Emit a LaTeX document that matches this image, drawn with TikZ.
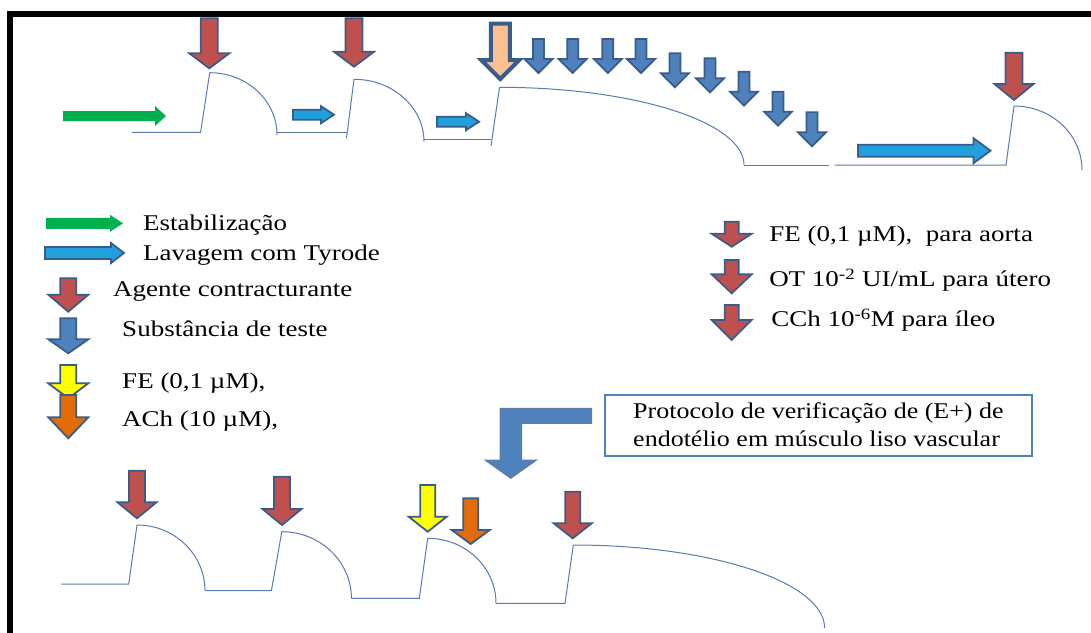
\documentclass[tikz,border=0pt]{standalone}
\usepackage{fontspec}
\setmainfont{Liberation Serif}

\definecolor{contr}{HTML}{C0504D}
\definecolor{teste}{HTML}{4F81BD}
\definecolor{borda}{HTML}{385D8A}
\definecolor{estab}{HTML}{00B050}
\definecolor{lavag}{HTML}{21A0DC}
\definecolor{feam}{HTML}{FFFF00}
\definecolor{achlar}{HTML}{E36C09}
\definecolor{pessego}{HTML}{FAC090}
\definecolor{tracocor}{HTML}{5A7AAE}

\tikzset{
  seta/.style={draw=borda, line width=1.8},
  registro/.style={draw=tracocor, line width=1},
  rotulo/.style={anchor=base west, inner sep=0, xscale=1.2, font=\fontsize{22.5}{27}\selectfont},
}

% down arrow: [style]{x}{top}{tip}{body half}{head half}{head length}
\newcommand{\seta}[7][fill=contr]{%
  \filldraw[seta,#1] (#2-#5,#3) -- (#2-#5,#4-#7) -- (#2-#6,#4-#7) -- (#2,#4)
    -- (#2+#6,#4-#7) -- (#2+#5,#4-#7) -- (#2+#5,#3) -- cycle;}
% right arrow: [style]{x start}{x tip}{y}{body half}{head half}{head length}
\newcommand{\setadir}[7][fill=lavag]{%
  \filldraw[seta,#1] (#2,#4-#5) -- (#3-#7,#4-#5) -- (#3-#7,#4-#6) -- (#3,#4)
    -- (#3-#7,#4+#6) -- (#3-#7,#4+#5) -- (#2,#4+#5) -- cycle;}
% quarter-ellipse relaxation from (x0,y0) down to (x1,y1)
\newcommand{\queda}[4]{%
  \draw[registro] (#1,#2) .. controls ({#1+0.552*(#3-#1)},#2) and (#3,{#4-0.552*(#4-#2)}) .. (#3,#4);}

\begin{document}
\begin{tikzpicture}[x=1pt,y=-1pt]
  \useasboundingbox (0,0) rectangle (1091,632);
  \clip (0,0) rectangle (1091,632);
  \draw[line width=6] (10,650) -- (10,13.5) -- (1100,13.5);

  % top record
  \setadir[fill=estab,draw=none]{63}{166}{116}{5}{10}{11}
  \draw[registro] (131.5,132.3) -- (200.6,132.3) -- (209.7,72.7);
  \queda{209.7}{72.7}{277}{135}
  \seta{209.3}{18.3}{68.3}{8.5}{20}{15}
  \setadir{293}{334}{114.7}{5}{8.5}{13}
  \draw[registro] (277,132.3) -- (346.5,132.3);
  \draw[registro] (346.5,138.3) -- (354,79.3);
  \queda{354}{79.3}{424}{141.7}
  \seta{354}{18.3}{66.7}{8.5}{20}{15}
  \setadir{437}{479}{121.7}{5}{8.5}{13}
  \draw[registro] (424,139.3) -- (491,139.3);
  \draw[registro] (491,146) -- (499.5,87.3);
  \queda{499.5}{87.3}{744}{165}
  \seta[fill=pessego,line width=4]{500.3}{23.5}{79}{9.5}{19}{19}
  \foreach \x/\t in {538.5/39, 572.7/39, 607.8/39, 641/39, 674.9/53.3, 710/58.3, 744/71.7, 778/91.7, 812/112.3}
    \seta[fill=teste]{\x}{\t}{\t+34}{5.5}{14}{14};
  \draw[registro] (744,165) -- (829,165);
  \draw[registro] (834.6,165) -- (1006,165) -- (1014,106);
  \queda{1014}{106}{1082}{170}
  \setadir{858}{990.5}{150.7}{6}{12.5}{17}
  \seta{1014}{52.7}{100}{8.5}{19.5}{16}

  % legend
  \setadir[fill=estab,draw=none]{46}{123}{223.3}{5.5}{8.5}{13}
  \setadir{45}{124}{253}{6}{10}{13}
  \seta{68.3}{278.3}{311.7}{8}{20}{17}
  \seta[fill=teste]{68.3}{318.3}{353.3}{8}{20}{14}
  \seta[fill=feam]{68.3}{365}{398.3}{8}{20}{15}
  \seta[fill=achlar]{68.3}{395}{438.3}{8}{20}{21}
  \node[rotulo] (estab) at (143,230.7) {Estabilização};
  \node[rotulo] (lavag) at (143,260) {Lavagem com Tyrode};
  \node[rotulo] (agente) at (113,296.7) {Agente contracturante};
  \node[rotulo] (subst) at (122,336.7) {Substância de teste};
  \node[rotulo] (fe) at (122,388.3) {FE (0,1 µM),};
  \node[rotulo] (ach) at (122,426.7) {ACh (10 µM),};

  \seta{731.7}{221.7}{246.7}{7}{20}{13}
  \seta{731.7}{260}{293.3}{7}{20}{19}
  \seta{731.7}{305}{340}{7}{20}{20}
  \node[rotulo] (aorta) at (769,241.7) {FE (0,1 µM),\ \ para aorta};
  \node[rotulo] (utero) at (769,286.7) {OT 10\textsuperscript{-2} UI/mL para útero};
  \node[rotulo] (ileo) at (771,326.7) {CCh 10\textsuperscript{-6}M para íleo};

  % endothelium check
  \draw[draw=teste,line width=2] (605,395) rectangle (1031.7,456);
  \node[rotulo,xscale=0.9625] (prot1) at (633,418.3) {Protocolo de verificação de (E+) de};
  \node[rotulo,xscale=0.9625] (prot2) at (633,446.7) {endotélio em músculo liso vascular};
  \filldraw[fill=teste,draw=borda!80,line width=1] (591.7,408.3) -- (500,408.3) -- (500,460)
    -- (485,460) -- (510.7,478.3) -- (536.7,460) -- (521.7,460) -- (521.7,423.3) -- (591.7,423.3) -- cycle;

  % bottom record
  \draw[registro] (61,584) -- (128.7,584) -- (137,525);
  \queda{137}{525}{205}{590.7}
  \draw[registro] (205,590.7) -- (271.4,590.7) -- (281.8,531.7);
  \queda{281.8}{531.7}{351.4}{598.3}
  \draw[registro] (351.4,598.3) -- (419.3,598.3) -- (427.7,538.3);
  \queda{427.7}{538.3}{496}{603.3}
  \draw[registro] (496,603.3) -- (565,603.3) -- (573.3,545);
  \queda{573.3}{545}{824.6}{628}
  \seta{137}{470.7}{518.3}{8}{19.5}{16}
  \seta{282}{476.7}{525}{8}{19.5}{16}
  \seta[fill=feam]{427.7}{485}{531.7}{7.5}{19}{15}
  \seta[fill=achlar]{470.7}{498.3}{544}{7.5}{19}{14}
  \seta{572.7}{491.7}{538.3}{7.5}{19}{15}
\end{tikzpicture}
\end{document}
